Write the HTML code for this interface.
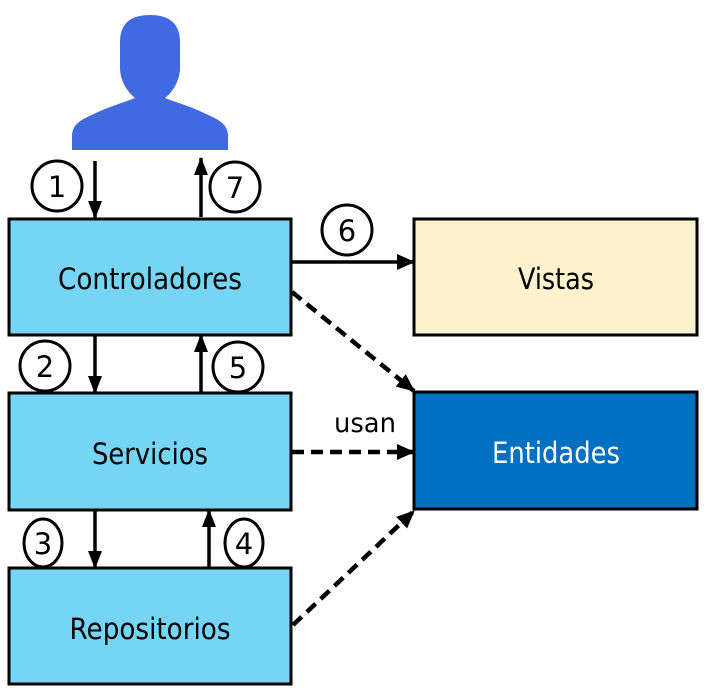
<!DOCTYPE html>
<html><head><meta charset="utf-8"><style>
html,body{margin:0;padding:0;background:#fff;}
svg{display:block;}
text{font-family:"DejaVu Sans","Liberation Sans",sans-serif;}
</style></head><body>
<svg width="705" height="690" viewBox="0 0 705 690" xmlns="http://www.w3.org/2000/svg">
<defs>
<marker id="ah" markerWidth="18" markerHeight="14" refX="17" refY="7" orient="auto" markerUnits="userSpaceOnUse" viewBox="0 0 18 14">
<path d="M0,0 L18,7 L0,14 z" fill="#000"/></marker>
<marker id="ah2" markerWidth="18" markerHeight="16" refX="17" refY="8" orient="auto" markerUnits="userSpaceOnUse" viewBox="0 0 18 16">
<path d="M0,0 L18,8 L0,16 z" fill="#000"/></marker>
</defs>
<path fill="#4169E1" d="M150,15 C128,15 120,26 120,42 L120,68 C120,80 127,92 135,98 C122,103 108,107 96,113 C83,119 72,123 72,136 L72,150 L228,150 L228,136 C228,123 217,119 204,113 C192,107 178,103 165,98 C173,92 180,80 180,68 L180,42 C180,26 172,15 150,15 Z"/>
<g stroke="#000" stroke-width="3">
<rect x="9" y="219" width="282" height="116" fill="#76D5F5"/>
<rect x="9" y="393" width="282" height="117" fill="#76D5F5"/>
<rect x="9" y="568" width="282" height="116" fill="#76D5F5"/>
<rect x="414" y="219" width="283" height="116" fill="#FFF2CC"/>
<rect x="414" y="392" width="283" height="117" fill="#0070C0"/>
</g>
<g font-size="29" text-anchor="middle">
<text x="150" y="289" fill="#000" textLength="184" lengthAdjust="spacingAndGlyphs">Controladores</text>
<text x="150" y="464" fill="#000" textLength="116" lengthAdjust="spacingAndGlyphs">Servicios</text>
<text x="150" y="639" fill="#000" textLength="161" lengthAdjust="spacingAndGlyphs">Repositorios</text>
<text x="556" y="289" fill="#000" textLength="76" lengthAdjust="spacingAndGlyphs">Vistas</text>
<text x="556" y="463" fill="#fff" textLength="128" lengthAdjust="spacingAndGlyphs">Entidades</text>
<text x="365" y="432" fill="#000" font-size="27" textLength="62" lengthAdjust="spacingAndGlyphs">usan</text>
</g>
<g stroke="#000" stroke-width="3.5" fill="none">
<line x1="95" y1="161" x2="95" y2="218" marker-end="url(#ah)"/>
<line x1="201" y1="217" x2="201" y2="158" marker-end="url(#ah)"/>
<line x1="95" y1="335" x2="95" y2="393" marker-end="url(#ah)"/>
<line x1="201" y1="393" x2="201" y2="335" marker-end="url(#ah)"/>
<line x1="95" y1="510" x2="95" y2="568" marker-end="url(#ah)"/>
<line x1="209" y1="568" x2="209" y2="510" marker-end="url(#ah)"/>
<line x1="291" y1="262" x2="414" y2="262" marker-end="url(#ah2)"/>
</g>
<g stroke="#000" stroke-width="4.5" fill="none" stroke-dasharray="12,7">
<line x1="292" y1="292" x2="414" y2="391" marker-end="url(#ah2)"/>
<line x1="292" y1="452" x2="414" y2="452" marker-end="url(#ah2)"/>
<line x1="293" y1="625" x2="414" y2="511" marker-end="url(#ah2)"/>
</g>
<g stroke="#000" stroke-width="3" fill="#fff">
<ellipse cx="57" cy="186" rx="25" ry="25"/>
<ellipse cx="235" cy="187" rx="25" ry="25"/>
<ellipse cx="347" cy="230" rx="25" ry="25"/>
<ellipse cx="45" cy="366" rx="25" ry="25"/>
<ellipse cx="238" cy="367" rx="25" ry="25"/>
<ellipse cx="43" cy="543" rx="19" ry="24"/>
<ellipse cx="244" cy="543" rx="19" ry="24"/>
</g>
<g font-size="29" text-anchor="middle" fill="#000">
<text x="57" y="197">1</text>
<text x="235" y="198">7</text>
<text x="347" y="241">6</text>
<text x="45" y="377">2</text>
<text x="238" y="378">5</text>
<text x="43" y="554">3</text>
<text x="244" y="554">4</text>
</g>
</svg>
</body></html>
